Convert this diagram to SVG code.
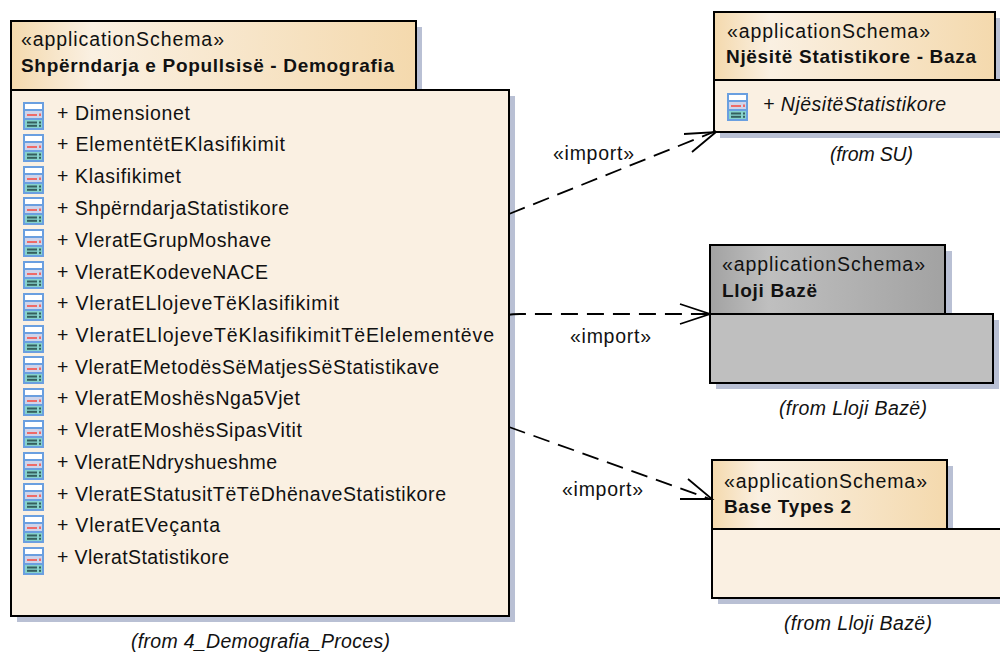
<svg xmlns="http://www.w3.org/2000/svg" width="1000" height="652" viewBox="0 0 1000 652">
<style>
text{font-family:"Liberation Sans",Arial,sans-serif;font-size:19.500px;fill:#111}
.b{font-weight:bold;font-size:19px}
.i{font-style:italic}
.s{fill:#b9c0d4}
.o{stroke:#000;stroke-width:2}
.body{fill:#faf0e2}
.gb{fill:#bfbfbf}
.c{fill:none;stroke:#000;stroke-width:1.800}
.d{stroke-dasharray:17 9}
</style>
<defs>
<linearGradient id="tan" x1="0" x2="1" y1="0" y2="0"><stop offset="0" stop-color="#f4d9ad"/><stop offset=".2" stop-color="#faf0e2"/><stop offset="1" stop-color="#f4d9ad"/></linearGradient>
<linearGradient id="gray" x1="0" x2="1" y1="0" y2="0"><stop offset="0" stop-color="#a2a2a2"/><stop offset=".25" stop-color="#bfbfbf"/><stop offset="1" stop-color="#a2a2a2"/></linearGradient>
<symbol id="ic" width="22" height="28" viewBox="0 0 22 28" overflow="visible">
<rect x="0" y="0" width="21" height="28" fill="#6a9fe0"/>
<rect x="2" y="2" width="17" height="5" fill="#fff"/>
<rect x="2" y="9" width="17" height="7" fill="#cfd4ea"/>
<rect x="4" y="12" width="10" height="2" fill="#ee6a68"/><rect x="16" y="11.500" width="2" height="2.500" fill="#ee6a68"/>
<rect x="2" y="18" width="17" height="8" fill="#86d2cc"/>
<rect x="4" y="19.500" width="10" height="2" fill="#35605e"/><rect x="4" y="22.800" width="10" height="2" fill="#35605e"/>
<rect x="16" y="19.500" width="2" height="2" fill="#35605e"/><rect x="16" y="22.800" width="2" height="2" fill="#35605e"/>
</symbol>
</defs>
<g id="node-demografia">
<rect class="s" x="17" y="27" width="405" height="69"/>
<rect class="s" x="17" y="96" width="498" height="526"/>
<rect class="o" fill="url(#tan)" x="11" y="21" width="405" height="69"/>
<rect class="o body" x="11" y="90" width="498" height="526"/>
<text x="21" y="46" textLength="203">«applicationSchema»</text>
<text class="b" x="21" y="72" textLength="373">Shpërndarja e Popullsisë - Demografia</text>
<use href="#ic" x="23" y="102"/><text x="57" y="120" textLength="133">+ Dimensionet</text>
<use href="#ic" x="23" y="134"/><text x="57" y="151" textLength="228">+ ElementëtEKlasifikimit</text>
<use href="#ic" x="23" y="166"/><text x="57" y="183" textLength="124">+ Klasifikimet</text>
<use href="#ic" x="23" y="197"/><text x="57" y="215" textLength="232">+ ShpërndarjaStatistikore</text>
<use href="#ic" x="23" y="229"/><text x="57" y="247" textLength="214">+ VleratEGrupMoshave</text>
<use href="#ic" x="23" y="261"/><text x="57" y="279" textLength="211">+ VleratEKodeveNACE</text>
<use href="#ic" x="23" y="293"/><text x="57" y="310" textLength="282">+ VleratELlojeveTëKlasifikimit</text>
<use href="#ic" x="23" y="325"/><text x="57" y="342" textLength="437">+ VleratELlojeveTëKlasifikimitTëElelementëve</text>
<use href="#ic" x="23" y="356"/><text x="57" y="374" textLength="382">+ VleratEMetodësSëMatjesSëStatistikave</text>
<use href="#ic" x="23" y="388"/><text x="57" y="405" textLength="243">+ VleratEMoshësNga5Vjet</text>
<use href="#ic" x="23" y="420"/><text x="57" y="437" textLength="245">+ VleratEMoshësSipasVitit</text>
<use href="#ic" x="23" y="452"/><text x="57" y="469" textLength="220">+ VleratENdryshueshme</text>
<use href="#ic" x="23" y="483"/><text x="57" y="501" textLength="389">+ VleratEStatusitTëTëDhënaveStatistikore</text>
<use href="#ic" x="23" y="515"/><text x="57" y="532" textLength="163">+ VleratEVeçanta</text>
<use href="#ic" x="23" y="547"/><text x="57" y="564" textLength="172">+ VleratStatistikore</text>
<text class="i" x="131" y="648" textLength="259">(from 4_Demografia_Proces)</text>
</g>
<g id="node-njesite">
<rect class="s" x="720" y="18" width="281" height="68"/>
<rect class="s" x="720" y="86" width="290" height="52"/>
<rect class="o" fill="url(#tan)" x="714" y="12" width="281" height="68"/>
<rect class="o body" x="714" y="80" width="290" height="52"/>
<text x="727" y="38" textLength="203">«applicationSchema»</text>
<text class="b" x="726" y="63" textLength="250">Njësitë Statistikore - Baza</text>
<use href="#ic" x="727" y="93"/>
<text class="i" x="763" y="111" textLength="183">+ NjësitëStatistikore</text>
<text class="i" x="830" y="161" textLength="83">(from SU)</text>
</g>
<g id="node-lloji">
<rect class="s" x="716" y="251" width="236" height="69"/>
<rect class="s" x="716" y="320" width="283" height="69"/>
<rect class="o" fill="url(#gray)" x="710" y="245" width="235" height="69"/>
<rect class="o gb" x="710" y="314" width="283" height="69"/>
<text x="722" y="271" textLength="203">«applicationSchema»</text>
<text class="b" x="722" y="297" textLength="95">Lloji Bazë</text>
<text class="i" x="779" y="415" textLength="148">(from Lloji Bazë)</text>
</g>
<g id="node-base">
<rect class="s" x="718" y="466" width="235" height="69"/>
<rect class="s" x="718" y="535" width="290" height="69"/>
<rect class="o" fill="url(#tan)" x="712" y="460" width="235" height="69"/>
<rect class="o body" x="712" y="529" width="292" height="69"/>
<text x="724" y="488" textLength="203">«applicationSchema»</text>
<text class="b" x="724" y="513" textLength="127">Base Types 2</text>
<text class="i" x="784" y="630" textLength="148">(from Lloji Bazë)</text>
</g>
<g id="connectors">
<path class="c d" d="M509 214L716 131"/>
<path class="c" d="M684 134L716 132L692 152"/>
<path class="c d" d="M509 315Q512 314 520 314L708 314"/>
<path class="c" d="M680 304L710 314L680 324"/>
<path class="c d" d="M509 427L710 499"/>
<path class="c" d="M688 479L712 499L680 499"/>
<text x="553" y="160" textLength="81">«import»</text>
<text x="570" y="343" textLength="81">«import»</text>
<text x="562" y="496" textLength="81">«import»</text>
</g>
</svg>
